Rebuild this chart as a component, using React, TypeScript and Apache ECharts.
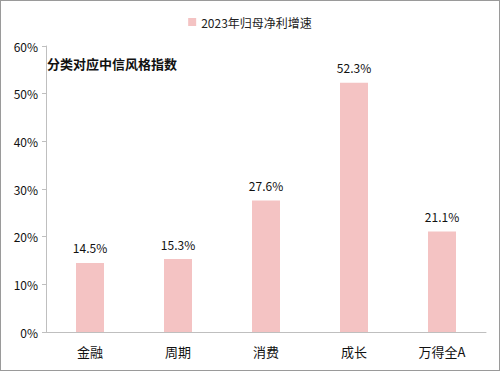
import React, { useEffect, useRef } from "react";
import * as echarts from "echarts";

const categories = ["金融", "周期", "消费", "成长", "万得全A"];
const values = [14.5, 15.3, 27.6, 52.3, 21.1];
const seriesName = "2023年归母净利增速";
const titleText = "分类对应中信风格指数";

export default function App() {
  const ref = useRef<HTMLDivElement>(null);
  useEffect(() => {
    document.body.style.margin = "0";
    const chart = echarts.init(ref.current!, null, { renderer: "svg" });
    chart.setOption({
      animation: false,
      backgroundColor: "#ffffff",
      textStyle: { fontFamily: "'Noto Sans CJK SC', 'Noto Sans', sans-serif" },
      title: {
        text: titleText,
        left: 41,
        top: 51,
        textStyle: { fontSize: 13, fontWeight: "bold", color: "#111" },
      },
      legend: {
        data: [seriesName],
        top: 10,
        left: "center",
        itemWidth: 8,
        itemHeight: 8,
        itemGap: 4,
        icon: "rect",
        textStyle: { fontSize: 12, color: "#222" },
      },
      grid: { left: 45, right: 13, top: 45, bottom: 38 },
      xAxis: {
        type: "category",
        data: categories,
        axisLine: { lineStyle: { color: "#bfbfbf", width: 1 } },
        axisTick: { show: false },
        axisLabel: { fontSize: 13, color: "#111", margin: 13 },
      },
      yAxis: {
        type: "value",
        min: 0,
        max: 60,
        interval: 10,
        axisLine: { show: true, lineStyle: { color: "#bfbfbf", width: 1 } },
        axisTick: { show: true, length: 4, lineStyle: { color: "#bfbfbf" } },
        splitLine: { show: false },
        axisLabel: { fontSize: 12, color: "#111", margin: 8, formatter: "{value}%" },
      },
      series: [
        {
          name: seriesName,
          type: "bar",
          data: values,
          barWidth: 28,
          itemStyle: { color: "#f4c3c3" },
          label: {
            show: true,
            position: "top",
            distance: 9,
            fontSize: 12,
            color: "#111",
            formatter: (p: any) => p.value.toFixed(1) + "%",
          },
        },
      ],
    });
    return () => chart.dispose();
  }, []);
  return (
    <div
      ref={ref}
      style={{
        position: "absolute",
        left: 0,
        top: 0,
        width: 500,
        height: 371,
        boxSizing: "border-box",
        border: "1px solid #9a9a9a",
      }}
    />
  );
}
